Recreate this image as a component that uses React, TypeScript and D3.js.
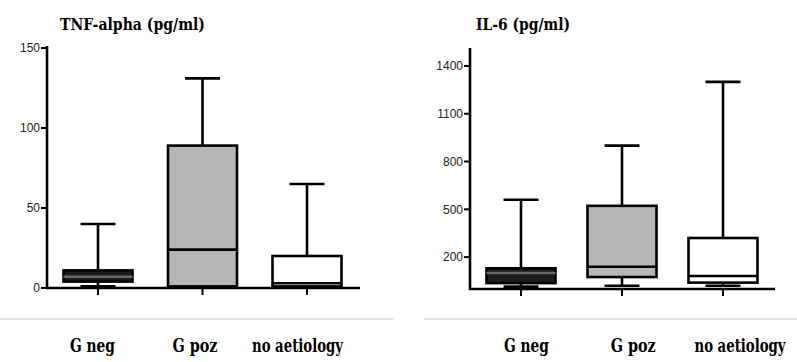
import React, { useLayoutEffect, useRef, useState } from 'react';
import * as d3 from 'd3';

// groups shared by both panels
const categories = ['G neg', 'G poz', 'no aetiology'];
const boxFills = ['#1c1c1c', '#b6b6b6', '#ffffff'];
const labelWidths = [45, 45, 91];

// TNF-alpha (pg/ml) box stats
const tnfMin = [1, 0.5, 0.5];
const tnfQ1 = [4, 1, 1];
const tnfMedian = [7, 24, 3];
const tnfQ3 = [11, 89, 20];
const tnfMax = [40, 131, 65];
const tnfTicks = [0, 50, 100, 150];

// IL-6 (pg/ml) box stats
const il6Min = [15, 20, 20];
const il6Q1 = [37, 75, 40];
const il6Median = [100, 140, 82];
const il6Q3 = [130, 522, 320];
const il6Max = [560, 900, 1300];
const il6Ticks = [200, 500, 800, 1100, 1400];

const serif = '"DejaVu Serif", serif';

// bold serif text squeezed horizontally to a target width (the source uses a condensed Times)
function SqueezedText({ x, y, width, size, children }: { x: number; y: number; width: number; size: number; children: string }) {
  const ref = useRef<SVGTextElement>(null);
  const [sx, setSx] = useState(0.75);
  useLayoutEffect(() => {
    if (ref.current) {
      const w = ref.current.getComputedTextLength();
      if (w > 0) setSx(width / w);
    }
  }, [width, children]);
  return (
    <g transform={`translate(${x},${y}) scale(${sx},1)`}>
      <text ref={ref} style={{ fontFamily: serif, fontWeight: 'bold', fontSize: size }}>
        {children}
      </text>
    </g>
  );
}

type PanelProps = {
  title: string;
  titleX: number;
  titleW: number;
  mins: number[];
  q1s: number[];
  medians: number[];
  q3s: number[];
  maxs: number[];
  ticks: number[];
  yMax: number;
  axisX: number;
  axisEnd: number;
  yTop: number;
  yZero: number;
  boxRange: [number, number];
  labelRange: [number, number];
  sepRange: [number, number];
};

function Panel(p: PanelProps) {
  const y = d3.scaleLinear().domain([0, p.yMax]).range([p.yZero, p.yTop]);
  const x = d3.scalePoint<string>().domain(categories).range(p.boxRange);
  const lx = d3.scalePoint<string>().domain(categories).range(p.labelRange);
  const boxW = 69;
  const capW = 35;

  return (
    <g>
      <SqueezedText x={p.titleX} y={30} width={p.titleW} size={17}>
        {p.title}
      </SqueezedText>

      {/* boxes */}
      {categories.map((c, i) => {
        const cx = x(c)!;
        return (
          <g key={c} stroke="#000" strokeWidth={2.6} fill="none">
            <line x1={cx} x2={cx} y1={y(p.maxs[i])} y2={y(p.q3s[i])} />
            <line x1={cx - capW / 2} x2={cx + capW / 2} y1={y(p.maxs[i])} y2={y(p.maxs[i])} />
            <line x1={cx} x2={cx} y1={y(p.q1s[i])} y2={y(p.mins[i])} />
            <line x1={cx - capW / 2} x2={cx + capW / 2} y1={y(p.mins[i])} y2={y(p.mins[i])} />
            <rect
              x={cx - boxW / 2}
              y={y(p.q3s[i])}
              width={boxW}
              height={y(p.q1s[i]) - y(p.q3s[i])}
              fill={boxFills[i]}
            />
            <line
              x1={cx - boxW / 2}
              x2={cx + boxW / 2}
              y1={y(p.medians[i])}
              y2={y(p.medians[i])}
              stroke={i === 0 ? '#6a6a6a' : '#000'}
            />
          </g>
        );
      })}

      {/* axes */}
      <line x1={p.axisX} x2={p.axisX} y1={p.yTop - 2} y2={p.yZero + 1} stroke="#000" strokeWidth={2.6} />
      <line x1={p.axisX - 1} x2={p.axisEnd} y1={p.yZero} y2={p.yZero} stroke="#000" strokeWidth={2.6} />
      {p.ticks.map((t) => (
        <g key={t}>
          <line x1={p.axisX - 6} x2={p.axisX} y1={y(t)} y2={y(t)} stroke="#000" strokeWidth={2} />
          <text
            x={p.axisX - 7}
            y={y(t)}
            dy="0.35em"
            textAnchor="end"
            fontFamily="Liberation Sans, Arial, sans-serif"
            fontSize={12}
            fill="#222"
          >
            {t}
          </text>
        </g>
      ))}
      {categories.map((c) => (
        <line key={c} x1={x(c)} x2={x(c)} y1={p.yZero} y2={p.yZero + 7} stroke="#000" strokeWidth={2} />
      ))}

      <line x1={p.sepRange[0]} x2={p.sepRange[1]} y1={319} y2={319} stroke="#c8c8c8" strokeWidth={1} />
      {categories.map((c, i) => (
        <SqueezedText key={c} x={lx(c)! - labelWidths[i] / 2} y={352} width={labelWidths[i]} size={18}>
          {c}
        </SqueezedText>
      ))}
    </g>
  );
}

export default function App() {
  return (
    <svg width={797} height={362} style={{ position: 'absolute', left: 0, top: 0, background: '#fff' }}>
      <Panel
        title="TNF-alpha (pg/ml)"
        titleX={60}
        titleW={145}
        mins={tnfMin}
        q1s={tnfQ1}
        medians={tnfMedian}
        q3s={tnfQ3}
        maxs={tnfMax}
        ticks={tnfTicks}
        yMax={150}
        axisX={47}
        axisEnd={360}
        yTop={48}
        yZero={288}
        boxRange={[98, 307]}
        labelRange={[92.5, 297.5]}
        sepRange={[0, 394]}
      />
      <Panel
        title="IL-6 (pg/ml)"
        titleX={476}
        titleW={94}
        mins={il6Min}
        q1s={il6Q1}
        medians={il6Median}
        q3s={il6Q3}
        maxs={il6Max}
        ticks={il6Ticks}
        yMax={1500}
        axisX={470}
        axisEnd={775}
        yTop={50}
        yZero={289}
        boxRange={[521, 723]}
        labelRange={[526.5, 740]}
        sepRange={[424, 797]}
      />
    </svg>
  );
}
